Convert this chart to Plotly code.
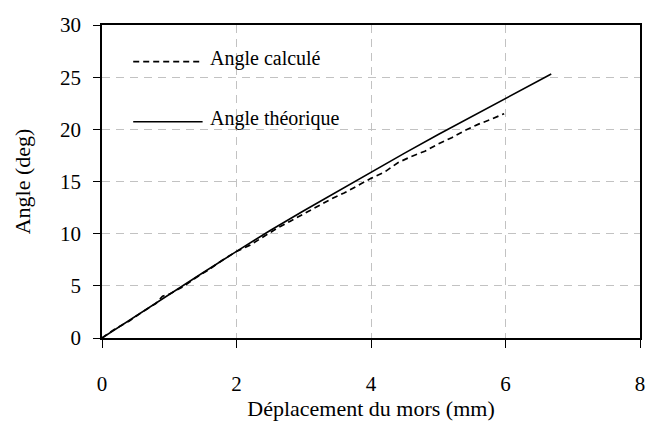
import plotly.graph_objects as go

# Jaw displacement (mm) vs. angle (deg)
x_calc = [0.0, 0.2, 0.4, 0.6, 0.8, 0.9, 1.0, 1.2, 1.4, 1.6, 1.8, 2.0, 2.2, 2.4,
          2.6, 2.8, 3.0, 3.2, 3.4, 3.6, 3.8, 4.0, 4.2, 4.4, 4.6, 4.8, 5.0,
          5.2, 5.4, 5.6, 5.8, 5.98]
y_calc = [0.0, 0.9, 1.6, 2.5, 3.3, 4.0, 4.2, 4.9, 5.8, 6.6, 7.5, 8.3, 8.9, 9.7,
          10.5, 11.2, 11.9, 12.6, 13.3, 13.9, 14.6, 15.3, 15.9, 16.8, 17.4,
          17.9, 18.6, 19.2, 19.9, 20.5, 21.0, 21.5]

x_theo = [0.0, 0.5, 1.0, 1.5, 2.0, 2.5, 3.0, 3.5, 4.0, 4.5, 5.0, 5.5, 6.0, 6.68]
y_theo = [0.0, 2.1, 4.2, 6.25, 8.3, 10.3, 12.2, 14.05, 15.9, 17.72, 19.5,
          21.25, 22.97, 25.3]

x_ticks = [0, 2, 4, 6, 8]
y_ticks = [0, 5, 10, 15, 20, 25, 30]

FONT = "Liberation Serif"
TICK_FS = 21
TITLE_FS = 22
LEG_FS = 20

fig = go.Figure()
fig.add_trace(go.Scatter(x=x_calc, y=y_calc, mode="lines", name="Angle calculé",
                         line=dict(color="black", width=1.7, dash="6px,4px")))
fig.add_trace(go.Scatter(x=x_theo, y=y_theo, mode="lines", name="Angle théorique",
                         line=dict(color="black", width=1.6)))

axis_common = dict(
    showline=True, linecolor="black", linewidth=1.6, mirror=True,
    showgrid=True, gridcolor="#c2c2c2", gridwidth=1, griddash="8px,6px",
    ticks="outside", tickcolor="black", tickwidth=1, zeroline=False,
    tickfont=dict(family=FONT, size=TICK_FS, color="black"),
)

fig.update_layout(
    width=649, height=426,
    margin=dict(l=102, r=4, t=25, b=88),
    paper_bgcolor="white", plot_bgcolor="white",
    showlegend=False,
    font=dict(family=FONT, size=TICK_FS, color="black"),
    xaxis=dict(range=[0, 8], tickvals=x_ticks, ticklen=8, ticklabelstandoff=18,
               title=dict(text="Déplacement du mors (mm)", standoff=5,
                          font=dict(family=FONT, size=TITLE_FS)),
               **axis_common),
    yaxis=dict(range=[0, 30], tickvals=y_ticks, ticklen=7, ticklabelstandoff=8,
               title=dict(text="Angle (deg)", standoff=23,
                          font=dict(family=FONT, size=TITLE_FS)),
               **axis_common),
)

# legend drawn inside the plot area with long line samples
legend_items = [("Angle calculé", "6px,4px", 0.883), ("Angle théorique", "solid", 0.691)]
for label, dash, yy in legend_items:
    fig.add_shape(type="line", xref="paper", yref="paper", x0=0.058, x1=0.187,
                  y0=yy, y1=yy, line=dict(color="black", width=1.6, dash=dash))
    fig.add_annotation(xref="paper", yref="paper", x=0.197, y=yy + 0.01,
                       text=label, showarrow=False, xanchor="left",
                       yanchor="middle", font=dict(family=FONT, size=LEG_FS))

fig.write_html("out.html")
